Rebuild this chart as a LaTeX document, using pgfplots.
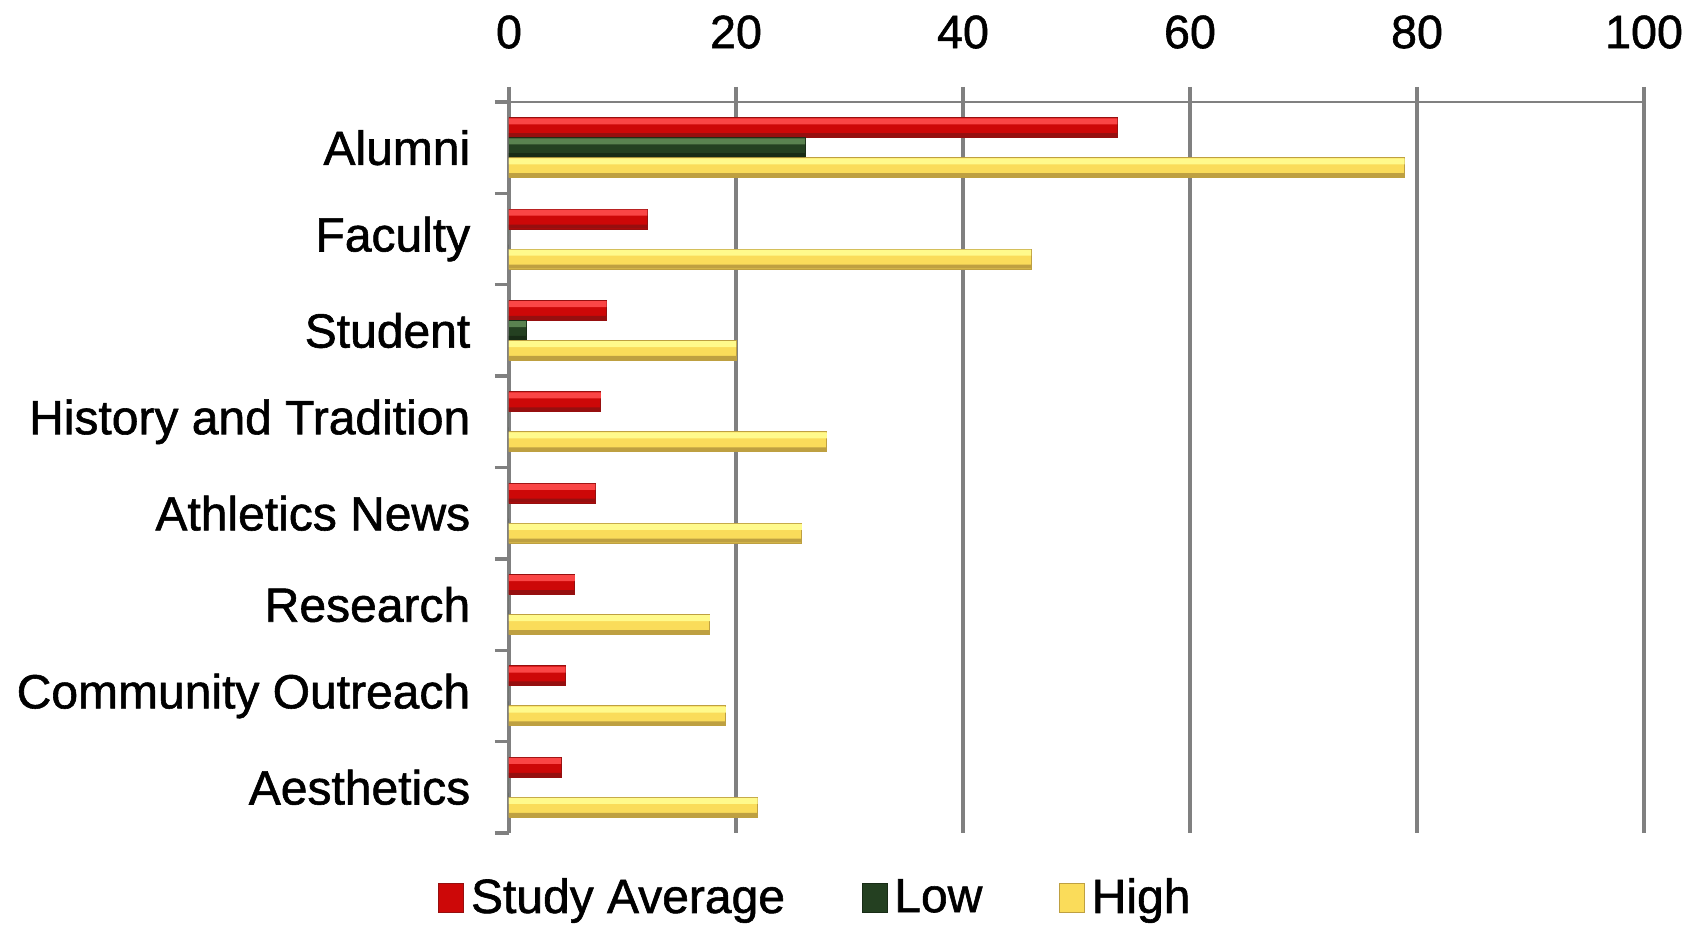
\documentclass[border=0pt]{standalone}
\usepackage{fontspec}
\setmainfont[FakeBold=1.2]{Liberation Sans}
\usepackage{pgfplots}
\pgfplotsset{compat=1.18}

% bar colours: highlight band, body, dark lower band
\definecolor{redTop}{RGB}{250,70,70}
\definecolor{redMid}{RGB}{205,8,8}
\definecolor{redBot}{RGB}{150,15,15}
\definecolor{grnTop}{RGB}{90,130,80}
\definecolor{grnMid}{RGB}{36,64,33}
\definecolor{grnBot}{RGB}{24,44,22}
\definecolor{ylwTop}{RGB}{255,250,140}
\definecolor{ylwMid}{RGB}{250,220,90}
\definecolor{ylwBot}{RGB}{190,160,65}
\definecolor{gridgray}{RGB}{128,128,128}

\pgfplotstableread{
pos avg  low  high
0   53.6 26.1 78.9
1   12.2 0    46.0
2   8.6  1.5  20.0
3   8.1  0    28.0
4   7.6  0    25.8
5   5.8  0    17.7
6   5.0  0    19.1
7   4.6  0    21.9
}\survey

\begin{document}
\begin{tikzpicture}
\begin{axis}[
  scale only axis,
  width=340.5pt, height=219.3pt,
  xbar=0pt,
  bar width=6pt,
  xmin=0, xmax=100,
  ymin=-0.5, ymax=7.5,
  y dir=reverse,
  axis x line=top,
  axis y line=left,
  axis line style={-, draw=gridgray, line width=0.6pt},
  xtick={0,20,40,60,80,100},
  xmajorgrids,
  grid style={draw=gridgray, line width=1pt},
  tick align=outside,
  major tick length=4.5pt,
  minor tick length=4.2pt,
  tick style={draw=gridgray, line width=1pt},
  ytick={0,1,2,3,4,5,6,7},
  yticklabels={Alumni,Faculty,Student,History and Tradition,Athletics News,Research,Community Outreach,Aesthetics},
  minor ytick={-0.5,0.5,1.5,2.5,3.5,4.5,5.5,6.5,7.5},
  major y tick style={draw=none},
  /pgf/number format/assume math mode=true,
  xticklabel style={font=\fontsize{14}{16}\selectfont, text=black, yshift=8pt},
  yticklabel style={font=\fontsize{14.4}{16}\selectfont, text=black, xshift=-3.6pt},
  legend style={
    at={(0.272,-0.089)}, anchor=center,
    draw=none, fill=none,
    legend columns=3,
    font=\fontsize{14.4}{16}\selectfont,
    /tikz/every even column/.append style={column sep=21pt},
  },
  legend image code/.code={
    \path[#1] (0pt,-4.4pt) rectangle (7.5pt,4.4pt);
  },
  band/.style={forget plot, draw=none, bar width=#1},
]
% main bars (positive shift moves a bar up the page)
\addplot[bar shift=6pt, fill=redMid, draw=redBot, line width=0.3pt]
  table[x=avg, y=pos] {\survey};
\addlegendentry{Study Average}
\addplot[bar shift=0pt, fill=grnMid, draw=grnBot, line width=0.3pt]
  table[x=low, y=pos] {\survey};
\addlegendentry{Low}
\addplot[bar shift=-6pt, fill=ylwMid, draw=ylwBot, line width=0.3pt]
  table[x=high, y=pos] {\survey};
\addlegendentry{High}
% light upper bands
\addplot[band=1.8pt, bar shift=7.9pt,  fill=redTop] table[x=avg, y=pos] {\survey};
\addplot[band=1.8pt, bar shift=1.9pt,  fill=grnTop] table[x=low, y=pos] {\survey};
\addplot[band=1.8pt, bar shift=-4.1pt, fill=ylwTop] table[x=high, y=pos] {\survey};
% dark lower bands
\addplot[band=1.2pt, bar shift=3.75pt,  fill=redBot] table[x=avg, y=pos] {\survey};
\addplot[band=1.2pt, bar shift=-2.25pt, fill=grnBot] table[x=low, y=pos] {\survey};
\addplot[band=1.2pt, bar shift=-8.25pt, fill=ylwBot] table[x=high, y=pos] {\survey};
\end{axis}
\pgfresetboundingbox
\path[use as bounding box]
  ([xshift=-152.7pt,yshift=-27.6pt]current axis.south west)
  rectangle ([xshift=16.8pt,yshift=30.6pt]current axis.north east);
\end{tikzpicture}
\end{document}
